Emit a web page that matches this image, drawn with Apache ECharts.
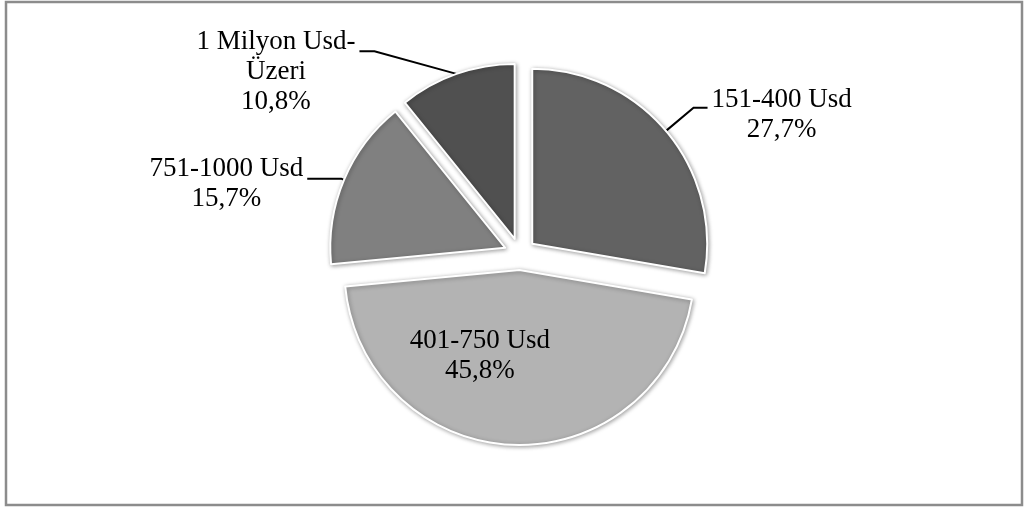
<!DOCTYPE html>
<html>
<head>
<meta charset="utf-8">
<script src="https://cdn.jsdelivr.net/npm/echarts@6/dist/echarts.min.js"></script>
<style>
html,body{margin:0;padding:0;background:#fff;}
#chart{width:1027px;height:507px;}
</style>
</head>
<body>
<div id="chart"></div>
<script>
const categories = ['151-400 Usd', '401-750 Usd', '751-1000 Usd', '1 Milyon Usd-Üzeri'];
const values = [27.7, 45.8, 15.7, 10.8];
const colors = ['#626262', '#b3b3b3', '#808080', '#505050'];
const insideFlags = [false, true, false, false];
const lineLen = [36, 0, 3, 24];
const lineLen2 = [14, 0, 34, 89];
const labelPads = [[14, 0, 0, 0], [0, 72, 10, 0], [10, 0, 0, 0], [42, 0, 0, 0]];
const kinkLen = [0, 0, 0, 15];

const chart = echarts.init(document.getElementById('chart'), null, {renderer: 'canvas'});

function fmt(params) {
  const name = params.name.replace('Usd-', 'Usd-\n');
  const pct = params.value.toFixed(1).replace('.', ',') + '%';
  return (name + '\n' + pct).split('\n').map(s => '{c|' + s + '}').join('\n');
}

const data = categories.map((n, i) => ({
  name: n,
  value: values[i],
  selected: true,
  itemStyle: {color: colors[i]},
  select: {itemStyle: {color: colors[i], borderColor: '#ffffff', borderWidth: 2}},
  label: {
    position: insideFlags[i] ? 'inside' : 'outside',
    padding: labelPads[i]
  },
  labelLine: {show: !insideFlags[i], length: lineLen[i], length2: lineLen2[i]}
}));

chart.setOption({
  animation: false,
  backgroundColor: '#ffffff',
  graphic: [{
    type: 'rect',
    shape: {x: 6, y: 2, width: 1016, height: 503},
    style: {fill: 'none', stroke: '#8c8c8c', lineWidth: 2.5},
    silent: true
  }],
  series: [{
    type: 'pie',
    center: [520, 254],
    radius: [0, 175],
    startAngle: 90,
    clockwise: true,
    selectedMode: 'multiple',
    selectedOffset: 16,
    avoidLabelOverlap: false,
    emphasis: {disabled: true},
    itemStyle: {
      borderColor: '#ffffff',
      borderWidth: 2,
      shadowBlur: 4,
      shadowColor: 'rgba(0,0,0,0.35)',
      shadowOffsetX: 1,
      shadowOffsetY: 1
    },
    label: {
      formatter: fmt,
      color: '#000',
      distanceToLabelLine: 4,
      rich: {
        c: {
          align: 'center',
          fontFamily: '"Liberation Serif", "Times New Roman", serif',
          fontSize: 27,
          lineHeight: 30,
          color: '#000'
        }
      }
    },
    labelLayout: function (params) {
      const k = kinkLen[params.dataIndex];
      const pts = params.labelLinePoints;
      if (!k || !pts || pts.length < 3) return {};
      const p0 = pts[0], p2 = pts[2];
      const dir = p2[0] < p0[0] ? 1 : -1;
      return {labelLinePoints: [p0, [p2[0] + dir * k, p2[1]], p2]};
    },
    labelLine: {
      lineStyle: {color: '#000', width: 2}
    },
    data: data
  }]
});
</script>
</body>
</html>
